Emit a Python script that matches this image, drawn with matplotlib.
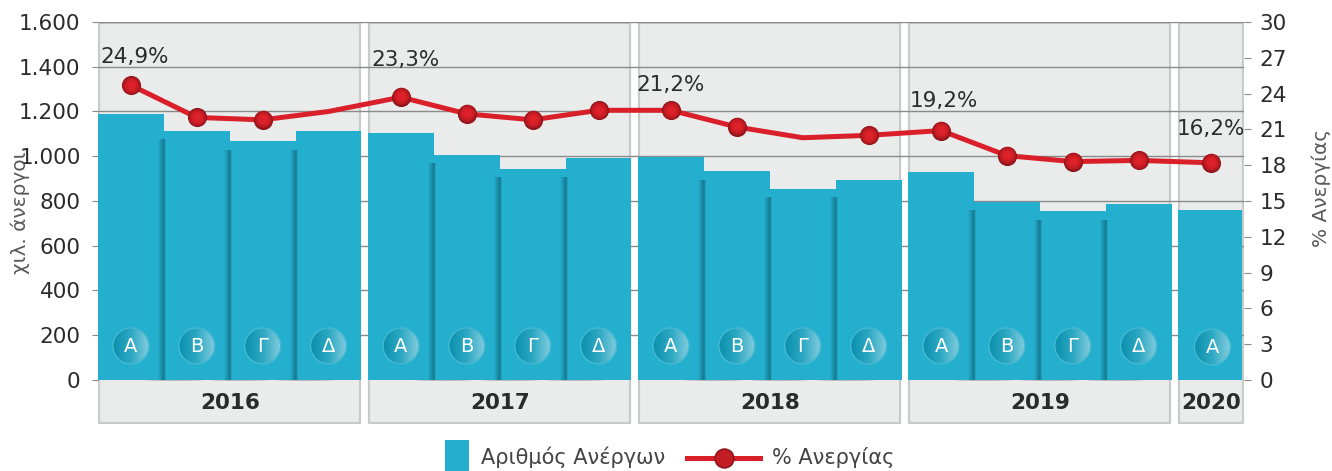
import numpy as np
import matplotlib
matplotlib.use("Agg")
import matplotlib.pyplot as plt
from matplotlib.colors import LinearSegmentedColormap
from matplotlib.lines import Line2D
from matplotlib.patches import Ellipse, Rectangle

plt.rcParams["font.family"] = ["Liberation Sans Narrow", "DejaVu Sans"]

# Data
years = ["2016", "2017", "2018", "2019", "2020"]
quarters = [
    ["Α", "Β", "Γ", "Δ"],
    ["Α", "Β", "Γ", "Δ"],
    ["Α", "Β", "Γ", "Δ"],
    ["Α", "Β", "Γ", "Δ"],
    ["Α"],
]
unemployed = [1189, 1113, 1068, 1113, 1104, 1006, 943, 992, 997, 934, 854, 894, 930, 796, 755, 787, 760]
rate = [24.7, 22.0, 21.8, 22.5, 23.7, 22.3, 21.8, 22.6, 22.6, 21.2, 20.3, 20.5, 20.9, 18.8, 18.3, 18.4, 18.2]
no_marker = [3, 10]
callouts = {0: "24,9%", 4: "23,3%", 8: "21,2%", 12: "19,2%", 16: "16,2%"}
left_ticks = [0, 200, 400, 600, 800, 1000, 1200, 1400, 1600]
left_labels = ["0", "200", "400", "600", "800", "1.000", "1.200", "1.400", "1.600"]
right_ticks = list(range(0, 33, 3))

W, H = 1332, 471
TEAL = "#23AFCD"
GAP = 0.1
TEXT = "#2B2B2B"
GRID = "#8A8A8A"

fig = plt.figure(figsize=(W / 100, H / 100), dpi=100)
ax = fig.add_axes([98 / W, 1 - 424 / H, 1146 / W, 402 / H])
ax2 = ax.twinx()
ax.set_zorder(1)
ax2.set_zorder(2)
ax2.patch.set_visible(False)
ymin = -197
rmin = ymin * 30 / 1600

# Year panels and quarter positions
xs = []
start = 0
panels = []
for year, qs in zip(years, quarters):
    panels.append((start, len(qs)))
    xs += [start + i + 0.5 for i in range(len(qs))]
    ax.add_patch(Rectangle((start + 0.02, ymin + 5), len(qs) - 0.04, 1600 - ymin - 10,
                           fc="#EAECEC", ec="#C9CBCB", lw=1.6, zorder=1))
    ax.text(start + len(qs) / 2, -103, year, ha="center", va="center", fontsize=15.5,
            fontweight="bold", color=TEXT, zorder=6)
    start += len(qs) + GAP
xs = np.array(xs)
xmax = start - GAP

ax.hlines([t for t in left_ticks if t > 0], 0, xmax, color=GRID, lw=1, zorder=2)

# Bars
widths = [0.97 if x > 16 else 1.0 for x in xs]
lefts = xs - 0.5
ax.bar(lefts, unemployed, width=widths, align="edge", color=TEAL, zorder=3)

# Soft shadow where neighbouring bars meet
shadow = np.zeros((1, 32, 4))
shadow[..., :3] = (0.05, 0.30, 0.38)
shadow[0, :, 3] = np.concatenate([np.linspace(0, 0.55, 24), np.linspace(0.55, 0, 8)])
for i in range(1, len(xs)):
    if lefts[i] - lefts[i - 1] == 1:
        top = min(unemployed[i - 1], unemployed[i]) - 40
        ax.imshow(shadow, extent=(lefts[i] - 0.09, lefts[i] + 0.03, 0, top), aspect="auto",
                  interpolation="bilinear", zorder=3.5)
        ax.add_patch(Ellipse((lefts[i] + 0.15, 0), 0.9, 10, fc="#8F8F8F", ec="none", alpha=0.5, zorder=2.5))

# Quarter badges
badge_cmap = LinearSegmentedColormap.from_list("badge", ["#0A90AD", "#2FA9C4", "#86CEDF"])
gradient = np.linspace(0, 1, 64).reshape(1, -1)
rx, ry = 18 / 65.86, 18 * 1600 / 358
labels_flat = [q for qs in quarters for q in qs]
for x, q in zip(xs, labels_flat):
    by = 152 if x < 16 else 147
    bx = x if x < 16 else x + 0.02
    ring = Ellipse((bx, by), 2 * rx, 2 * ry, fc="none", ec="#45B9D2", lw=1, zorder=5)
    ax.add_patch(ring)
    im = ax.imshow(gradient, extent=(bx - rx, bx + rx, by - ry, by + ry), cmap=badge_cmap,
                   aspect="auto", zorder=4)
    im.set_clip_path(ring)
    ax.text(bx, by - 3, q, ha="center", va="center", color="white", fontsize=14,
            family="DejaVu Sans", zorder=6)

# Line with shaded markers
ax2.plot(xs, rate, color="#D9202A", lw=3.6, solid_joinstyle="round", zorder=3)
mx = [x for i, x in enumerate(xs) if i not in no_marker]
my = [r for i, r in enumerate(rate) if i not in no_marker]
ax2.scatter(mx, my, s=190, color="#8E151B", linewidths=0, zorder=4)
for s, c in [(160, "#A8181E"), (120, "#BE1B22"), (80, "#CE1D25"), (40, "#DD2129")]:
    ax2.scatter(mx, np.array(my) + 0.06, s=s, color=c, linewidths=0, zorder=5)

offsets = {0: (3, 20), 4: (3, 26.5), 8: (0, 18.5), 12: (2, 21), 16: (0, 24)}
for i, txt in callouts.items():
    ax2.annotate(txt, (xs[i], rate[i]), xytext=offsets[i], textcoords="offset points",
                 ha="center", va="center", fontsize=15.5, color=TEXT, zorder=6)

# Axes
ax.set_xlim(0, xmax)
ax.set_ylim(ymin, 1600)
ax2.set_ylim(rmin, 30)
ax.set_xticks([])
ax.set_yticks(left_ticks)
ax.set_yticklabels(left_labels)
ax2.set_yticks(right_ticks)
ax.tick_params(axis="y", length=4.5, width=0.8, color=GRID, pad=8, labelsize=15.5, labelcolor=TEXT)
ax2.tick_params(axis="y", length=5, width=0.8, color=GRID, pad=6, labelsize=15.5, labelcolor=TEXT)
for a in (ax, ax2):
    for s in a.spines.values():
        s.set_visible(False)

fig.text(20 / W, 1 - 213 / H, "χιλ. άνεργοι", rotation=90, ha="center", va="center",
         fontsize=14.5, color="#5A5A5A")
fig.text(1321 / W, 1 - 188 / H, "% Ανεργίας", rotation=90, ha="center", va="center",
         fontsize=14.5, color="#5A5A5A")

# Legend
fig.add_artist(Rectangle((445 / W, 0), 24 / W, 31 / H, transform=fig.transFigure, fc=TEAL, ec="none"))
fig.text(481 / W, 1 - 457 / H, "Αριθμός Ανέργων", va="center", fontsize=15, color="#444444")
fig.add_artist(Line2D([687 / W, 760 / W], [1 - 458 / H] * 2, transform=fig.transFigure,
                      color="#D9202A", lw=3.6))
fig.add_artist(Line2D([724 / W], [1 - 458 / H], transform=fig.transFigure, marker="o", ms=13.5,
                      mfc="#C41C23", mec="#8E151B", mew=1.2))
fig.text(772 / W, 1 - 457 / H, "% Ανεργίας", va="center", fontsize=15, color="#444444")

fig.savefig("out.png", dpi=100)
